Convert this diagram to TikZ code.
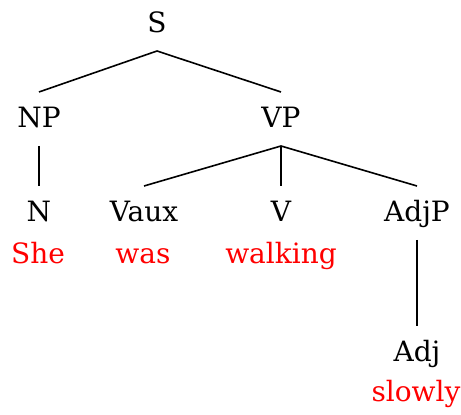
\documentclass[tikz,border=0pt]{standalone}
\usepackage{fontspec}
\setmainfont{DejaVu Serif}
\usepackage{tikz}
\usetikzlibrary{positioning}

\tikzset{
    cat/.style={anchor=base, inner sep=0pt, text height=9pt, text depth=0pt, outer ysep=9pt, font=\fontsize{14}{16}\selectfont},
    word/.style={anchor=base, inner sep=0pt, text=red, font=\fontsize{14}{16}\selectfont},
}

\begin{document}
\begin{tikzpicture}[x=0.5pt, y=-0.5pt, line width=0.8pt]
                    \useasboundingbox (0, 0) rectangle (461, 415);

                    \node[cat] (s)    at (157, 33)  {S};
                    \node[cat] (np)   at (39, 128)  {NP};
                    \node[cat] (vp)   at (281, 128) {VP};
                    \node[cat] (n)    at (39, 222)  {N};
                    \node[cat] (vaux) at (144, 222) {Vaux};
                    \node[cat] (v)    at (281, 222) {V};
                    \node[cat] (adjp) at (417, 222) {AdjP};
                    \node[cat] (adj)  at (417, 362) {Adj};

                    \node[word] (she)     at (38, 264)  {She};
                    \node[word] (was)     at (143, 264) {was};
                    \node[word] (walking) at (281, 264) {walking};
                    \node[word] (slowly)  at (416, 402) {slowly};

                    \draw (s.south)    -- (np.north);
                    \draw (s.south)    -- (vp.north);
                    \draw (np.south)   -- (n.north);
                    \draw (vp.south)   -- (vaux.north);
                    \draw (vp.south)   -- (v.north);
                    \draw (vp.south)   -- (adjp.north);
                    \draw (adjp.south) -- (adj.north);
                \end{tikzpicture}
\end{document}
